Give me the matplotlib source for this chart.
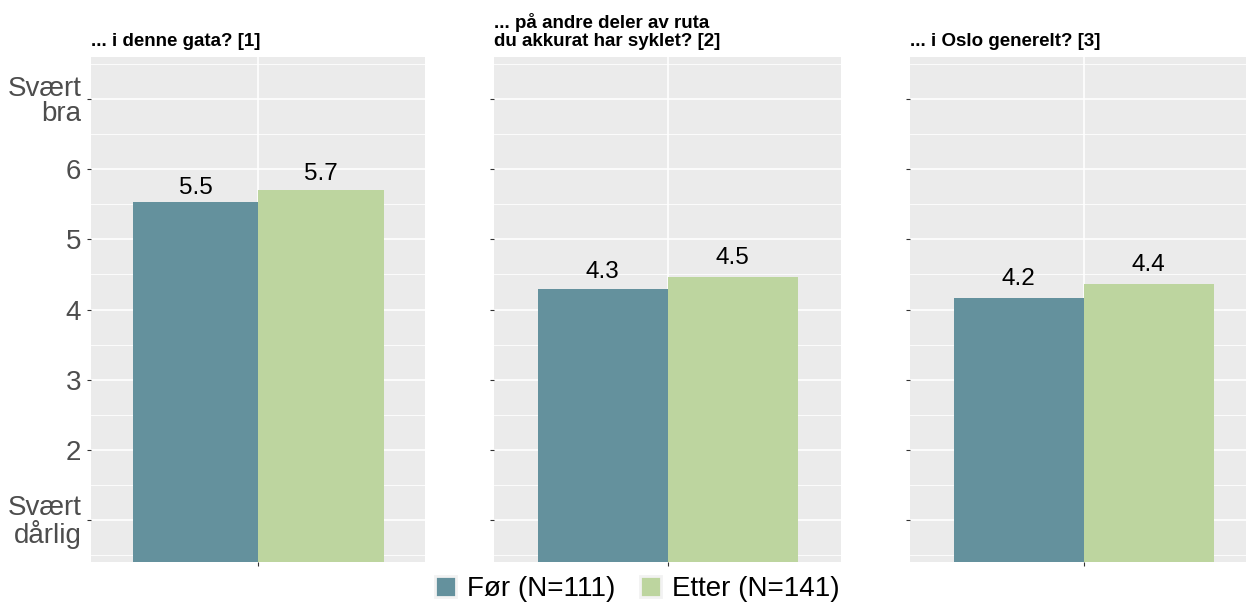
import matplotlib
matplotlib.use("Agg")
import matplotlib.pyplot as plt
from matplotlib.patches import Patch
import numpy as np

plt.rcParams['font.family'] = ['Liberation Sans', 'DejaVu Sans']

# survey questions (one facet each)
questions = ['... i denne gata? [1]',
             '... på andre deler av ruta\ndu akkurat har syklet? [2]',
             '... i Oslo generelt? [3]']
groups = ['Før (N=111)', 'Etter (N=141)']
before = [5.53, 4.29, 4.17]
after = [5.70, 4.46, 4.37]
y_ticks = [1, 2, 3, 4, 5, 6, 7]
y_labels = ['Svært\ndårlig', '2', '3', '4', '5', '6', 'Svært\nbra']

colors = ['#64919D', '#BDD59F']
panel_bg = '#EBEBEB'

W, H = 1246, 605
fig = plt.figure(figsize=(W / 100, H / 100), dpi=100)

# panel boxes in pixels: (left, right)
panels_px = [(91, 425.3), (494.3, 841), (910.3, 1257)]
top_px, bottom_px = 57.3, 561.7

width = 0.45
for i, (q, (l, r)) in enumerate(zip(questions, panels_px)):
    ax = fig.add_axes([l / W, 1 - bottom_px / H, (r - l) / W, (bottom_px - top_px) / H])
    ax.set_facecolor(panel_bg)
    for s in ax.spines.values():
        s.set_visible(False)
    ax.set_xlim(-0.6, 0.6)
    ax.set_ylim(0.4, 7.6)

    # grid lines
    for yv in np.arange(0.5, 8, 1.0):
        ax.axhline(yv, color='white', lw=0.6, zorder=0)
    for yv in y_ticks:
        ax.axhline(yv, color='white', lw=1.2, zorder=0)
    ax.axvline(0, color='white', lw=1.2, zorder=0)

    vals = [before[i], after[i]]
    for j, v in enumerate(vals):
        x = (j - 0.5) * width
        ax.bar(x, v, width=width, color=colors[j], zorder=2)
        ax.text(x, round(v, 1) + 0.15, f'{v:.1f}', ha='center', va='baseline',
                fontsize=17.5, color='black', zorder=3)

    ax.set_xticks([0])
    ax.set_xticklabels([''])
    ax.set_yticks(y_ticks)
    if i == 0:
        ax.set_yticklabels(y_labels, fontsize=20, color='#4D4D4D', linespacing=0.95)
    else:
        ax.set_yticklabels([''] * len(y_ticks))
    ax.tick_params(axis='both', length=3, width=0.8, color='#333333', pad=4)

    ax.text(0, 1 + 7 / (bottom_px - top_px), q, transform=ax.transAxes,
            ha='left', va='bottom', fontsize=13.5, fontweight='bold',
            color='black', linespacing=1.12)

handles = [Patch(facecolor=c, edgecolor='#F2F2F2', linewidth=2) for c in colors]
fig.legend(handles, groups, loc='center', bbox_to_anchor=(0.5116, 0.026),
           ncol=2, frameon=False, fontsize=20, handlelength=0.75, handleheight=0.75,
           handletextpad=0.4, columnspacing=0.9, borderpad=0, labelcolor='black')

fig.savefig('out.png', dpi=100)
